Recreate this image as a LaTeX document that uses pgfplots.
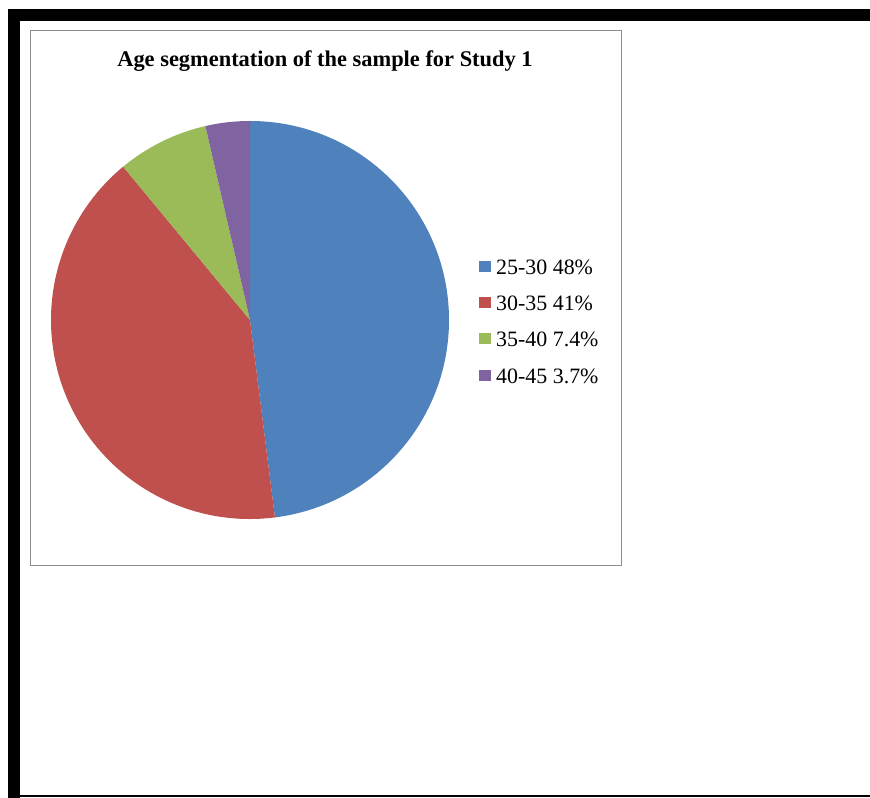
\documentclass[border=0pt]{standalone}
\usepackage{pgfplots}
\pgfplotsset{compat=1.18}
\usepackage{fontspec}
\setmainfont{Liberation Serif}
\definecolor{c1}{HTML}{4F81BD}
\definecolor{c2}{HTML}{C0504D}
\definecolor{c3}{HTML}{9BBB59}
\definecolor{c4}{HTML}{8064A2}
\begin{document}
\begin{tikzpicture}
\begin{axis}[x=1bp,y=1bp,xmin=0,xmax=870,ymin=0,ymax=798,hide axis,clip=false,anchor=origin,at={(0,0)}]
% background
\fill[white] (axis cs:0,0) rectangle (axis cs:870,798);
% outer black frame
\fill[black] (axis cs:8,777) rectangle (axis cs:870,789);
\fill[black] (axis cs:8,0) rectangle (axis cs:20,789);
\fill[black] (axis cs:8,1) rectangle (axis cs:870,3);
% chart frame
\draw[line width=1bp, black!45] (axis cs:30,767) rectangle (axis cs:621,232);
% title
\node[font=\fontsize{22.5}{27}\selectfont\bfseries] at (axis cs:325,737) {Age segmentation of the sample for Study 1};
% pie: values 48, 41, 7.4, 3.7 (percent), start at 90 deg, clockwise
\fill[c1] (axis cs:250,478) -- ++(90:199bp) arc[start angle=90, delta angle={-3.6*48}, radius=199bp] -- cycle;
\fill[c2] (axis cs:250,478) -- ++({90-3.6*48}:199bp) arc[start angle={90-3.6*48}, delta angle={-3.6*41}, radius=199bp] -- cycle;
\fill[c3] (axis cs:250,478) -- ++({90-3.6*(48+41)}:199bp) arc[start angle={90-3.6*(48+41)}, delta angle={-3.6*7.4}, radius=199bp] -- cycle;
\fill[c4] (axis cs:250,478) -- ++({90-3.6*(48+41+7.4)}:199bp) arc[start angle={90-3.6*(48+41+7.4)}, end angle=-270, radius=199bp] -- cycle;
% legend
\fill[c1] (axis cs:479,525.5) rectangle (axis cs:491,537);
\node[anchor=west,inner sep=0pt,font=\fontsize{22}{26}\selectfont] at (axis cs:496,530.5) {25-30 48\%};
\fill[c2] (axis cs:479,489.5) rectangle (axis cs:491,501);
\node[anchor=west,inner sep=0pt,font=\fontsize{22}{26}\selectfont] at (axis cs:496,494.5) {30-35 41\%};
\fill[c3] (axis cs:479,453.5) rectangle (axis cs:491,465);
\node[anchor=west,inner sep=0pt,font=\fontsize{22}{26}\selectfont] at (axis cs:496,458.5) {35-40 7.4\%};
\fill[c4] (axis cs:479,416.5) rectangle (axis cs:491,428);
\node[anchor=west,inner sep=0pt,font=\fontsize{22}{26}\selectfont] at (axis cs:496,421.5) {40-45 3.7\%};
\end{axis}
\end{tikzpicture}
\end{document}
